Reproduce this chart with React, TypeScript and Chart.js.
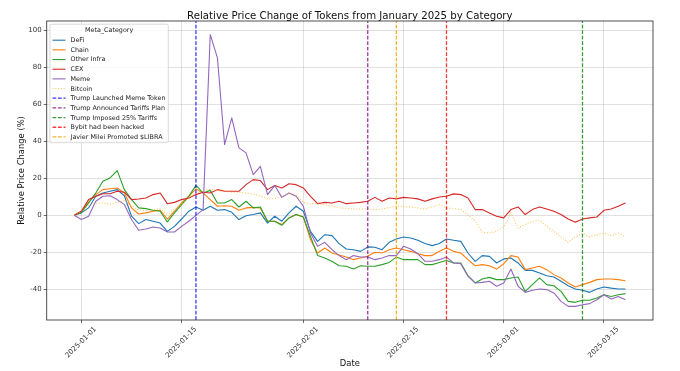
import React, { useEffect, useRef } from 'react';
import { Chart, registerables } from 'chart.js';
Chart.register(...registerables);

// ---------- data ----------
const START_DATE = '2024-12-31'; // first daily observation
const seriesNames = ['DeFi', 'Chain', 'Other Infra', 'CEX', 'Meme'];

const defi = [0, 1.3, 4, 10.3, 12.1, 13, 13.9, 10.6, -0.5, -4.5, -2.3, -3.2, -4.2, -8.7, -6, -2, 2.2, 4.5, 2.7, 4.9, 2.7, 3.1, 1.6, -2.3, -0.2, 0.4, 1.3, -4.2, -0.5, -3.2, 1.3, 4.9, 2.2, -8.7, -14.1, -10.5, -11,
  -15.3, -18.2, -18.6, -19.5, -17.1, -17.3, -18.6, -14.6, -12.8, -11.7, -12.3, -13.5, -15.3, -16.4, -15.3, -12.8, -13.5, -14.1, -20.4, -24.9, -21.8, -22.2, -25.8, -23.6, -23.1, -25.8, -29.8, -29.8, -31.2, -32.7, -33.4, -35.7, -38.1, -39.9, -40.6, -41.7, -39.9, -38.8, -39.4, -39.9, -39.9];
const chain = [0, 2.2, 7, 11.2, 13.9, 14.4, 14.8, 12.1, 4, 0.7, 1.3, 2.2, 2.7, -2, 2.2, 6.7, 10.3, 14.3, 12.1, 8.5, 4.9, 5.2, 4.9, 2.7, 4, 4.3, 4, -3.2, -3.2, -5, -1.4, 0.4, -0.9, -13.2, -20.4, -17.7, -20.4,
  -21.5, -22.6, -24, -23.1, -22.2, -20, -20.4, -18.6, -17.7, -18.6, -19.5, -20.8, -21.8, -21.8, -19.5, -17.7, -19.5, -20.4, -24, -27.3, -26.7, -27.3, -29.1, -26.2, -21.8, -22.6, -29.4, -28.5, -27.6, -29.4, -32.1, -33.9, -36.6, -38.8, -37.5, -36.3, -34.8, -34.5, -34.5, -34.8, -35.4];
const otherInfra = [0, 1.6, 6.7, 12.1, 18.4, 20.2, 24.2, 13.9, 8.5, 4, 3.6, 2.7, 2.2, -3.6, 1.3, 5.8, 10.3, 16.2, 12.1, 13.5, 6.7, 6.7, 8.5, 4.5, 7.6, 4, 4.5, -3.2, -3.2, -5.4, -1.4, 0.4, -0.9, -11.4, -21.8, -23.1, -24.9,
  -27.3, -27.6, -29.1, -27.3, -27.6, -27.6, -26.7, -25.5, -22.6, -24, -24, -24, -26.7, -26.7, -25.5, -24.5, -25.8, -25.8, -32.7, -36.6, -34.5, -33.6, -34.8, -34.8, -33.9, -33.4, -41.2, -37.5, -33.9, -37.5, -38.1, -41.2, -46.6, -47.1, -46, -46, -44.8, -43, -43.9, -43, -42.4];
const cex = [0, 2.2, 8.5, 10.3, 11.7, 11.7, 13, 12.5, 8.5, 8.8, 9.4, 11.2, 12.1, 6.3, 7, 8.5, 9.4, 11.2, 12.5, 12.1, 13.9, 13, 13, 13, 16.6, 19.3, 18.8, 13.9, 16.1, 14.8, 17.1, 16.6, 14.8, 10.3, 6.3, 7, 6.7,
  7.6, 6.3, 6.7, 7, 7.6, 9.7, 7.6, 9.4, 8.9, 9.7, 9.4, 8.9, 7.6, 8.9, 9.9, 10.3, 11.6, 11.2, 9.4, 3.1, 3.1, 1.3, -0.5, -1.4, 3.1, 4.5, 0.4, 3.1, 4.5, 3.4, 2.2, 0.4, -2, -3.8, -2, -1.4, -0.9, 2.7, 3.4, 4.9, 6.7];
const meme = [0, -2.3, -0.5, 7.6, 10.3, 10.6, 8.5, 5.8, -2.3, -8.1, -7.4, -6.3, -6.9, -9, -9, -6, -3.2, 0, 3.1, 97.8, 85.2, 38.3, 52.7, 36.5, 33.8, 22, 26.5, 11.2, 16.1, 9.7, 12.1, 10.3, 4.9, -9.6, -16.8, -14.6, -18.6,
  -21.8, -24, -21.8, -22.6, -22.6, -24, -23.1, -21.8, -21.8, -16.8, -18.2, -20.8, -24.9, -24.9, -24, -22.6, -25.8, -26.2, -33, -36.6, -36.3, -35.7, -38.4, -36.6, -29.1, -38.4, -41.7, -40.6, -39.9, -40.2, -42, -46.6, -49.3, -49.3, -48.4, -47.8, -45.7, -43, -45.3, -43.9, -45.7];
const bitcoin = [0, 2.2, 5.5, 6.5, 6.5, 6, 7, 8, 5, 3, 2.5, 3, 3.5, 0.5, 3, 6, 9.5, 12, 13.5, 14, 13.5, 13, 12.5, 12.5, 12, 11.5, 10.5, 9, 9, 10.5, 12, 11, 7, 6, 6.8, 5.5, 5,
  4, 3.8, 3.4, 3.4, 3.4, 3.1, 3.4, 4.2, 4.9, 4.7, 4.5, 4, 3.4, 4.5, 5.8, 4, 3.8, 3.1, 0.4, -3.2, -9.2, -9.6, -8.7, -6.3, 1.3, -6.9, -5, -3.2, -2.7, -5.9, -8.7, -11.7, -14.6, -11.7, -9.6, -11.7, -10.5, -9.6, -11, -9.6, -11.7];

const eventLabels = ['Trump Launched Meme Token', 'Trump Announced Tariffs Plan', 'Trump Imposed 25% Tariffs', 'Bybit had been hacked', 'Javier Milei Promoted $LIBRA'];
const eventDates = ['2025-01-17', '2025-02-10', '2025-03-12', '2025-02-21', '2025-02-14'];

const xTickLabels = ['2025-01-01', '2025-01-15', '2025-02-01', '2025-02-15', '2025-03-01', '2025-03-15'];
const yTickValues = [-40, -20, 0, 20, 40, 60, 80, 100];

// ---------- styles ----------
const FONT = '"DejaVu Sans", "Liberation Sans", sans-serif';
const seriesColors = ['#1f77b4', '#ff7f0e', '#2ca02c', '#d62728', '#9467bd'];
const bitcoinColor = 'rgba(255,165,0,0.6)';
const eventColors = ['rgba(0,0,255,0.78)', 'rgba(128,0,128,0.78)', 'rgba(0,128,0,0.78)', 'rgba(255,0,0,0.78)', 'rgba(255,165,0,0.85)'];
const LINE_W = 1.1;
const DOT = [1.1, 1.7];
const DASH = [3.7, 1.8];

const DAY = 86400000;
const ORIGIN = Date.UTC(2025, 0, 1);
function dayOf(s: string) {
  const [y, m, d] = s.split('-').map(Number);
  return (Date.UTC(y, m - 1, d) - ORIGIN) / DAY;
}

export default function App() {
  const ref = useRef<HTMLCanvasElement>(null);
  useEffect(() => {
    document.body.style.margin = '0';
    const canvas = ref.current!;
    const series = [defi, chain, otherInfra, cex, meme];
    const start = dayOf(START_DATE);
    const days = defi.map((_, i) => start + i);
    const pts = (arr: number[]) => arr.map((v, i) => ({ x: days[i], y: v }));

    const allVals = [...defi, ...chain, ...otherInfra, ...cex, ...meme, ...bitcoin];
    const vMin = Math.min(...allVals), vMax = Math.max(...allVals);
    const yMin = vMin - 0.05 * (vMax - vMin), yMax = vMax + 0.05 * (vMax - vMin);
    const dFirst = days[0], dLast = days[days.length - 1];
    const xMin = dFirst - 0.05 * (dLast - dFirst), xMax = dLast + 0.05 * (dLast - dFirst);
    const xTickDays = xTickLabels.map(dayOf);

    const datasets: any[] = [];
    let order = 100;
    series.forEach((arr, i) => {
      datasets.push({
        label: seriesNames[i], data: pts(arr), borderColor: seriesColors[i], borderWidth: LINE_W,
        pointRadius: 0, tension: 0, fill: false, borderJoinStyle: 'round', order: order--,
      });
    });
    datasets.push({
      label: 'Bitcoin', data: pts(bitcoin), borderColor: bitcoinColor, borderWidth: LINE_W, borderDash: DOT,
      pointRadius: 0, tension: 0, fill: false, order: order--,
    });
    eventDates.forEach((d, i) => {
      const x = dayOf(d);
      datasets.push({
        label: eventLabels[i], data: [{ x, y: yMin }, { x, y: yMax }], borderColor: eventColors[i], borderWidth: 1.3,
        borderDash: DASH, pointRadius: 0, fill: false, order: order--,
      });
    });

    const legendItems = [
      ...seriesNames.map((n, i) => ({ label: n, color: seriesColors[i], dash: [] as number[] })),
      { label: 'Bitcoin', color: bitcoinColor, dash: DOT },
      ...eventLabels.map((n, i) => ({ label: n, color: eventColors[i], dash: DASH })),
    ];

    const decor = {
      id: 'decor',
      afterDraw(chart: any) {
        const ctx = chart.ctx as CanvasRenderingContext2D;
        const a = chart.chartArea;
        ctx.save();
        // axes frame
        ctx.strokeStyle = '#3c3c3c';
        ctx.lineWidth = 0.9;
        ctx.setLineDash([]);
        ctx.strokeRect(a.left, a.top, a.right - a.left, a.bottom - a.top);
        // title
        ctx.fillStyle = '#111';
        ctx.textAlign = 'center';
        ctx.textBaseline = 'alphabetic';
        ctx.font = `10.2px ${FONT}`;
        ctx.fillText('Relative Price Change of Tokens from January 2025 by Category', (a.left + a.right) / 2, 18.5);
        // axis labels
        ctx.font = `8.4px ${FONT}`;
        ctx.fillText('Date', (a.left + a.right) / 2, 365.5);
        ctx.save();
        ctx.translate(23.5, (a.top + a.bottom) / 2);
        ctx.rotate(-Math.PI / 2);
        ctx.fillText('Relative Price Change (%)', 0, 0);
        ctx.restore();
        // legend
        const fx = a.left + 3.2, fy = a.top + 3.2, fw = 118.4, fh = 118.5;
        ctx.fillStyle = 'rgba(255,255,255,0.8)';
        ctx.strokeStyle = '#cfcfcf';
        ctx.lineWidth = 0.8;
        ctx.beginPath();
        (ctx as any).roundRect(fx, fy, fw, fh, 2);
        ctx.fill();
        ctx.stroke();
        ctx.font = `6.4px ${FONT}`;
        ctx.fillStyle = '#222';
        ctx.textBaseline = 'middle';
        ctx.textAlign = 'center';
        ctx.fillText('Meta_Category', fx + fw / 2, fy + 6);
        legendItems.forEach((it, i) => {
          const y = fy + 16 + i * 9.67;
          ctx.strokeStyle = it.color;
          ctx.lineWidth = i < 6 ? LINE_W : 1.3;
          ctx.setLineDash(it.dash);
          ctx.beginPath();
          ctx.moveTo(fx + 2.6, y);
          ctx.lineTo(fx + 15.6, y);
          ctx.stroke();
          ctx.setLineDash([]);
          ctx.textAlign = 'left';
          ctx.fillText(it.label, fx + 20.6, y + 0.3);
        });
        ctx.restore();
      },
    };

    const chart = new Chart(canvas, {
      type: 'line',
      data: { datasets },
      options: {
        responsive: false,
        animation: false,
        devicePixelRatio: 1,
        layout: { padding: { left: 0, right: 27, top: 21, bottom: 0 }, autoPadding: false } as any,
        plugins: { legend: { display: false }, title: { display: false }, tooltip: { enabled: false } },
        scales: {
          x: {
            type: 'linear', min: xMin, max: xMax,
            afterBuildTicks: (s: any) => { s.ticks = xTickDays.map((v) => ({ value: v })); },
            afterFit: (s: any) => { s.height = 51; },
            grid: { color: 'rgba(170,170,170,0.45)', lineWidth: 0.8, drawTicks: true, tickLength: 3, tickColor: '#444' },
            border: { display: false },
            ticks: {
              autoSkip: false, minRotation: 45, maxRotation: 45, padding: 2, labelOffset: 14,
              color: '#333', font: { family: FONT, size: 7 },
              callback: (v: any) => { const i = xTickDays.indexOf(v); return i >= 0 ? xTickLabels[i] : ''; },
            },
          },
          y: {
            type: 'linear', min: yMin, max: yMax,
            afterBuildTicks: (s: any) => { s.ticks = yTickValues.map((v) => ({ value: v })); },
            afterFit: (s: any) => { s.width = 46.7; },
            grid: { color: 'rgba(170,170,170,0.45)', lineWidth: 0.8, drawTicks: true, tickLength: 3, tickColor: '#444' },
            border: { display: false },
            ticks: { padding: 2, color: '#333', font: { family: FONT, size: 7 }, callback: (v: any) => String(v) },
          },
        },
      },
      plugins: [decor],
    });
    return () => chart.destroy();
  }, []);
  return (
    <div style={{ width: 680, height: 371 }}>
      <canvas ref={ref} width={680} height={371} style={{ display: 'block', width: 680, height: 371 }} />
    </div>
  );
}
